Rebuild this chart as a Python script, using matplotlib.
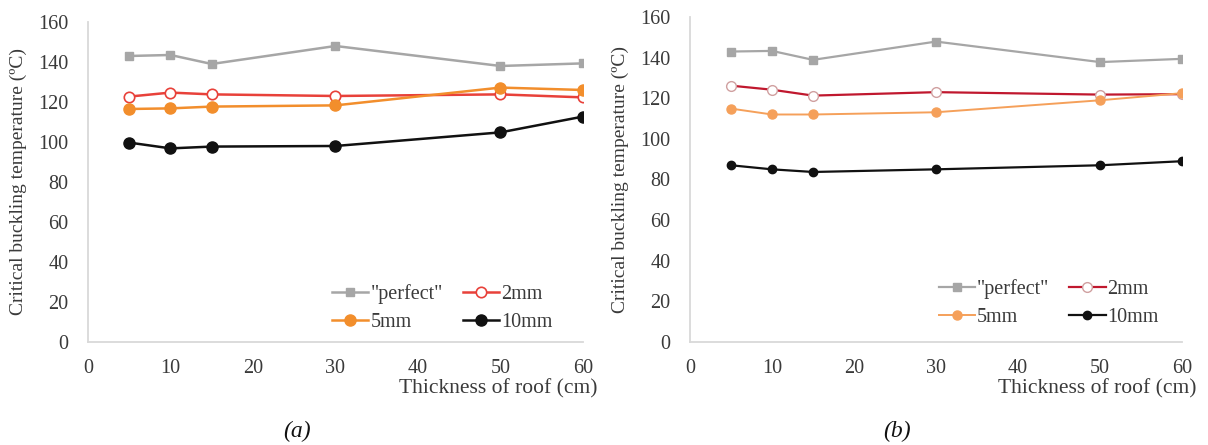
import matplotlib.pyplot as plt

plt.rcParams["font.family"] = ["Liberation Serif", "DejaVu Serif"]

thickness = [5, 10, 15, 30, 50, 60]

# panel (a)
a_perfect = [143, 143.5, 139, 148, 138, 139.3]
a_2mm = [122.7, 124.7, 123.8, 123, 123.8, 122.3]
a_5mm = [116.5, 116.8, 117.7, 118.3, 127.2, 126]
a_10mm = [99.7, 96.8, 97.7, 98, 104.8, 112.7]

# panel (b)
b_perfect = [143, 143.3, 138.9, 147.9, 137.8, 139.4]
b_2mm = [126.2, 124.2, 121.3, 123, 121.8, 122]
b_5mm = [114.9, 112, 112, 113.1, 119, 122.5]
b_10mm = [87, 85, 83.7, 85, 87, 89]

x_ticks = [0, 10, 20, 30, 40, 50, 60]
y_ticks = [0, 20, 40, 60, 80, 100, 120, 140, 160]

TEXT = "#3a3a3a"
SPINE = "#d9d9d9"


def draw_panel(ax, perfect, s2, s5, s10, styles, legend_anchor):
    h_p, = ax.plot(thickness, perfect, label='"perfect"', **styles["perfect"])
    h_2, = ax.plot(thickness, s2, label="2mm", **styles["2mm"])
    h_5, = ax.plot(thickness, s5, label="5mm", **styles["5mm"])
    h_10, = ax.plot(thickness, s10, label="10mm", **styles["10mm"])

    ax.set_xlim(0, 60)
    ax.set_ylim(0, 160)
    ax.set_xticks(x_ticks)
    ax.set_yticks(y_ticks)
    ax.tick_params(length=0, labelsize=14.5, colors=TEXT)
    ax.tick_params(axis="y", pad=14)
    ax.tick_params(axis="x", pad=12)
    for side in ["top", "right"]:
        ax.spines[side].set_visible(False)
    for side in ["left", "bottom"]:
        ax.spines[side].set_color(SPINE)
        ax.spines[side].set_linewidth(1.3)

    ax.text(1.03, -0.145, "Thickness of roof (cm)", transform=ax.transAxes,
            ha="right", va="center", fontsize=15.5, color=TEXT)
    ax.set_ylabel("Critical buckling temperature (ºC)", fontsize=14, color=TEXT,
                  labelpad=8)

    # row-major order like the original legend
    handles = [h_p, h_5, h_2, h_10]
    ax.legend(handles, [h.get_label() for h in handles], ncol=2,
              frameon=False, loc="lower right", bbox_to_anchor=legend_anchor,
              fontsize=14.5, handlelength=1.8, handletextpad=0.1,
              columnspacing=1.0, labelspacing=0.45, labelcolor=TEXT)


styles_a = {
    "perfect": dict(color="#a6a6a6", lw=1.8, marker="s", ms=5.5),
    "2mm": dict(color="#e8413a", lw=1.8, marker="o", ms=7.5,
                mfc="white", mec="#e8413a", mew=1.2),
    "5mm": dict(color="#f28e2c", lw=1.8, marker="o", ms=8),
    "10mm": dict(color="#111111", lw=1.8, marker="o", ms=8),
}

styles_b = {
    "perfect": dict(color="#a6a6a6", lw=1.6, marker="s", ms=5.5),
    "2mm": dict(color="#c0182e", lw=1.6, marker="o", ms=7,
                mfc="white", mec="#d0a0a0", mew=1.0),
    "5mm": dict(color="#f5a05a", lw=1.4, marker="o", ms=6.5),
    "10mm": dict(color="#111111", lw=1.6, marker="o", ms=6),
}

fig = plt.figure(figsize=(12.08, 4.45), dpi=100)
ax_a = fig.add_axes([0.0728, 0.2315, 0.4098, 0.7191])
ax_b = fig.add_axes([0.5712, 0.2315, 0.4073, 0.7303])

draw_panel(ax_a, a_perfect, a_2mm, a_5mm, a_10mm, styles_a, (0.975, -0.025))
draw_panel(ax_b, b_perfect, b_2mm, b_5mm, b_10mm, styles_b, (0.99, -0.01))

fig.text(297 / 1208, 1 - 431 / 445, "(a)", ha="center", va="center",
         fontsize=17, style="italic", color="#111111")
fig.text(897 / 1208, 1 - 431 / 445, "(b)", ha="center", va="center",
         fontsize=17, style="italic", color="#111111")

fig.savefig("out.png", dpi=100)
plt.close()
